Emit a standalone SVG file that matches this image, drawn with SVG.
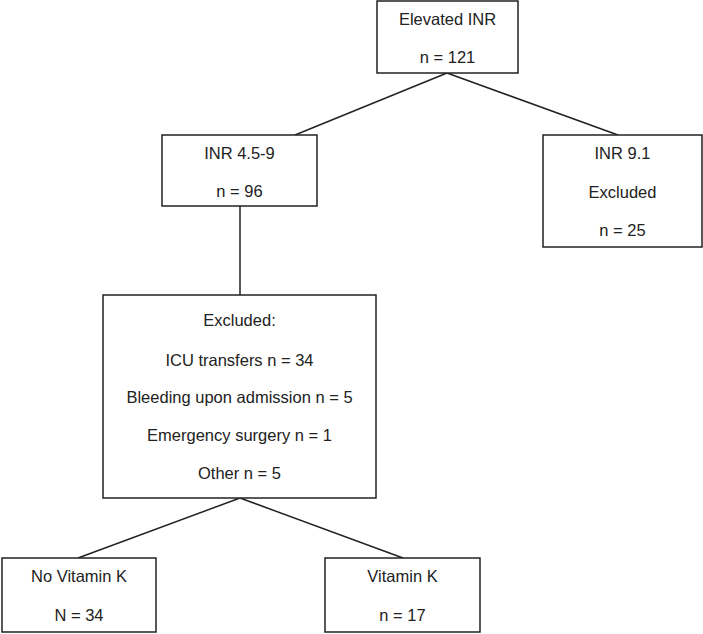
<svg xmlns="http://www.w3.org/2000/svg" width="703" height="634" viewBox="0 0 703 634">
<style>
.box{fill:#fff;stroke:#222;stroke-width:1.5}
.ln{stroke:#222;stroke-width:1.5;fill:none}
text{font-family:"Liberation Sans",Arial,sans-serif;font-size:16.5px;fill:#222;text-anchor:middle}
</style>
<rect width="703" height="634" fill="#fff"/>
<g id="connectors">
<line class="ln" x1="447" y1="73" x2="295" y2="135"/>
<line class="ln" x1="447" y1="73" x2="618" y2="135"/>
<line class="ln" x1="240" y1="206" x2="240" y2="295"/>
<line class="ln" x1="240" y1="498" x2="78" y2="558"/>
<line class="ln" x1="240" y1="498" x2="403" y2="558"/>
</g>
<g id="elevated">
<rect class="box" x="377" y="1" width="141" height="72"/>
<text x="447.5" y="25">Elevated INR</text>
<text x="447.5" y="63">n = 121</text>
</g>
<g id="inr45">
<rect class="box" x="162" y="135" width="155" height="71"/>
<text x="239.5" y="159">INR 4.5-9</text>
<text x="239.5" y="197">n = 96</text>
</g>
<g id="inr91">
<rect class="box" x="543" y="135" width="159" height="112"/>
<text x="622.5" y="159">INR 9.1</text>
<text x="622.5" y="198">Excluded</text>
<text x="622.5" y="236">n = 25</text>
</g>
<g id="excluded">
<rect class="box" x="103" y="295" width="273" height="203"/>
<text x="239.5" y="326">Excluded:</text>
<text x="239.5" y="366">ICU transfers n = 34</text>
<text x="239.5" y="403">Bleeding upon admission n = 5</text>
<text x="239.5" y="441">Emergency surgery n = 1</text>
<text x="239.5" y="479">Other n = 5</text>
</g>
<g id="novitk">
<rect class="box" x="2" y="558" width="154" height="74"/>
<text x="79" y="582">No Vitamin K</text>
<text x="79" y="621">N = 34</text>
</g>
<g id="vitk">
<rect class="box" x="325" y="558" width="155" height="74"/>
<text x="402.5" y="582">Vitamin K</text>
<text x="402.5" y="621">n = 17</text>
</g>
</svg>
